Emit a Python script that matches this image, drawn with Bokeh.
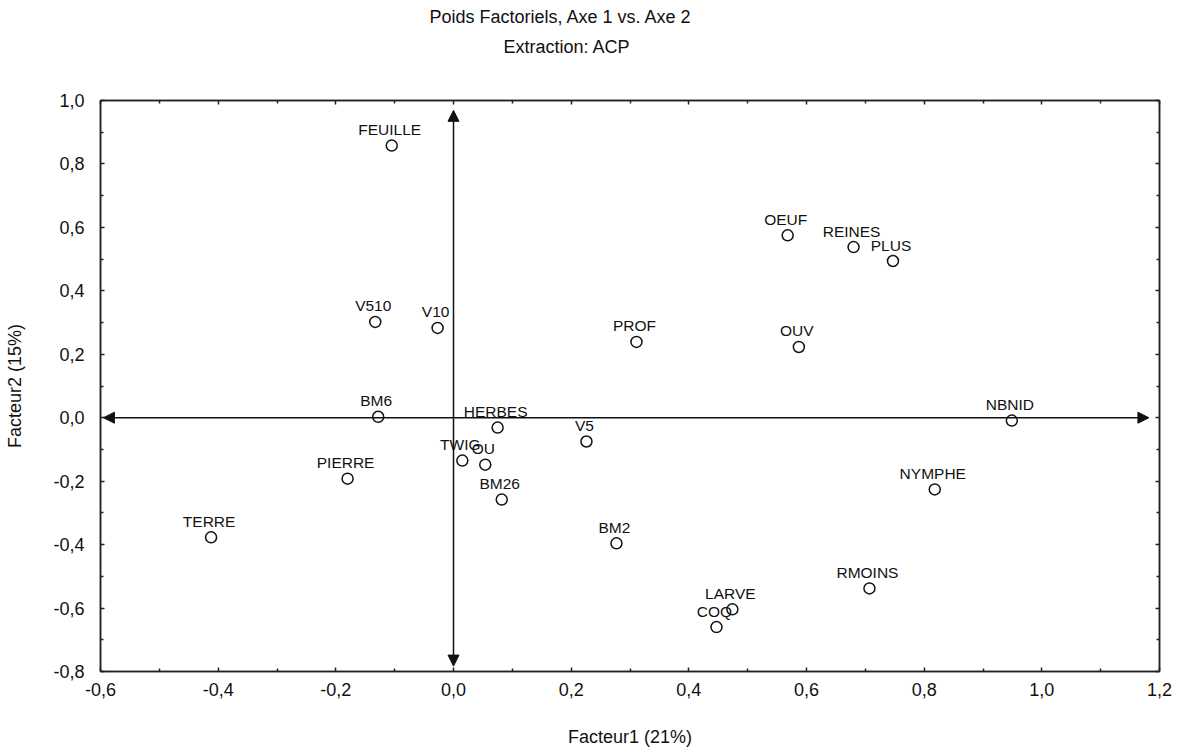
from bokeh.plotting import figure
from bokeh.models import (ColumnDataSource, FixedTicker, CustomJSTickFormatter, LinearAxis,
                          Arrow, NormalHead, Title, Range1d)
from bokeh.core.properties import value
from bokeh.embed import file_html
from bokeh.resources import INLINE

# ---- data ----
variables = ["FEUILLE", "V510", "V10", "BM6", "PIERRE", "TERRE", "HERBES", "TWIG", "OU",
             "BM26", "V5", "PROF", "BM2", "COQ", "LARVE", "OEUF", "OUV", "REINES", "PLUS",
             "NBNID", "NYMPHE", "RMOINS"]
facteur1 = [-0.105, -0.133, -0.027, -0.128, -0.180, -0.412, 0.075, 0.015, 0.054,
            0.082, 0.226, 0.311, 0.277, 0.447, 0.474, 0.568, 0.587, 0.680, 0.747,
            0.949, 0.818, 0.707]
facteur2 = [0.858, 0.302, 0.283, 0.003, -0.192, -0.377, -0.031, -0.135, -0.148,
            -0.258, -0.075, 0.239, -0.396, -0.660, -0.604, 0.575, 0.223, 0.538, 0.494,
            -0.009, -0.226, -0.538]
x_ticks = [-0.6, -0.4, -0.2, 0.0, 0.2, 0.4, 0.6, 0.8, 1.0, 1.2]
y_ticks = [-0.8, -0.6, -0.4, -0.2, 0.0, 0.2, 0.4, 0.6, 0.8, 1.0]
x_minor = [-0.5, -0.3, -0.1, 0.1, 0.3, 0.5, 0.7, 0.9, 1.1]
y_minor = [-0.7, -0.5, -0.3, -0.1, 0.1, 0.3, 0.5, 0.7, 0.9]
axis_arrow_x = [-0.595, 1.182]
axis_arrow_y = [-0.783, 0.969]

title_text = "Poids Factoriels, Axe 1 vs. Axe 2"
subtitle_text = "Extraction: ACP"
xlabel = "Facteur1 (21%)"
ylabel = "Facteur2 (15%)"

FONT = "Liberation Sans"
INK = "#111111"

XR = (-0.6, 1.2)
YR = (-0.8, 1.0)
W, H = 1181, 749
ML, MR, MT, MB = 100, 22, 100, 77

p = figure(width=W, height=H, output_backend="svg", toolbar_location=None,
           x_range=Range1d(*XR), y_range=Range1d(*YR),
           x_axis_type=None, y_axis_type=None, title=None,
           min_border_left=ML, min_border_right=MR, min_border_top=MT, min_border_bottom=MB)
p.xgrid.visible = False
p.ygrid.visible = False
p.outline_line_color = "#222222"
p.outline_line_width = 1.5
p.background_fill_color = "white"
p.border_fill_color = "white"

fmt = CustomJSTickFormatter(code="return tick.toFixed(1).replace('.', ',');")
blank = CustomJSTickFormatter(code="return '';")


def make_axis(ticks, minor, formatter, label=None, font_size="18px"):
    ax = LinearAxis(ticker=FixedTicker(ticks=ticks, minor_ticks=minor), formatter=formatter)
    ax.major_tick_in = 4
    ax.major_tick_out = 0
    ax.minor_tick_in = 3
    ax.minor_tick_out = 0
    ax.axis_line_color = "#222222"
    ax.axis_line_width = 1.5
    ax.major_tick_line_color = "#222222"
    ax.minor_tick_line_color = "#222222"
    ax.major_tick_line_width = 1.5
    ax.minor_tick_line_width = 1.5
    ax.major_label_text_font = FONT
    ax.major_label_text_font_size = font_size
    ax.major_label_text_color = INK
    if label:
        ax.axis_label = label
        ax.axis_label_text_font = FONT
        ax.axis_label_text_font_size = "18px"
        ax.axis_label_text_font_style = "normal"
        ax.axis_label_text_color = INK
    return ax


xb = make_axis(x_ticks, x_minor, fmt, xlabel)
xb.major_label_standoff = 11
xb.axis_label_standoff = 28
p.add_layout(xb, "below")

yl = make_axis(y_ticks, y_minor, fmt, ylabel)
yl.major_label_standoff = 16
yl.axis_label_standoff = 25
p.add_layout(yl, "left")

xt = make_axis(x_ticks, x_minor, blank, font_size="0px")
xt.major_label_standoff = 0
p.add_layout(xt, "above")

yr = make_axis(y_ticks, y_minor, blank, font_size="0px")
yr.major_label_standoff = 0
p.add_layout(yr, "right")

# titles stacked above the frame (first added sits nearest the frame)
p.add_layout(Title(text=" ", text_font_size="1px", standoff=41), "above")  # spacer
p.add_layout(Title(text=subtitle_text, align="left", offset=403, standoff=0,
                   text_font=FONT, text_font_size="18px", text_font_style="normal",
                   text_color=INK), "above")
p.add_layout(Title(text=title_text, align="left", offset=329, standoff=12,
                   vertical_align="top",
                   text_font=FONT, text_font_size="18px", text_font_style="normal",
                   text_color=INK), "above")

# axis arrows through the origin (double headed)
for (x0, y0, x1, y1) in [(axis_arrow_x[0], 0.0, axis_arrow_x[1], 0.0),
                         (0.0, axis_arrow_y[0], 0.0, axis_arrow_y[1])]:
    p.add_layout(Arrow(x_start=x0, y_start=y0, x_end=x1, y_end=y1,
                       line_color=INK, line_width=1.5,
                       start=NormalHead(size=11, fill_color=INK, line_color=INK, line_width=1),
                       end=NormalHead(size=11, fill_color=INK, line_color=INK, line_width=1)))

src = ColumnDataSource(dict(x=facteur1, y=facteur2, name=variables))
p.scatter("x", "y", source=src, size=11, marker="circle", fill_color="white",
          line_color=INK, line_width=1.5)
p.text("x", "y", text="name", source=src, text_font=value(FONT), text_font_size="15.5px",
       text_align="center", text_baseline="alphabetic", x_offset=-2, y_offset=-16,
       text_color=INK)

open("out.html", "w").write(file_html(p, INLINE))
